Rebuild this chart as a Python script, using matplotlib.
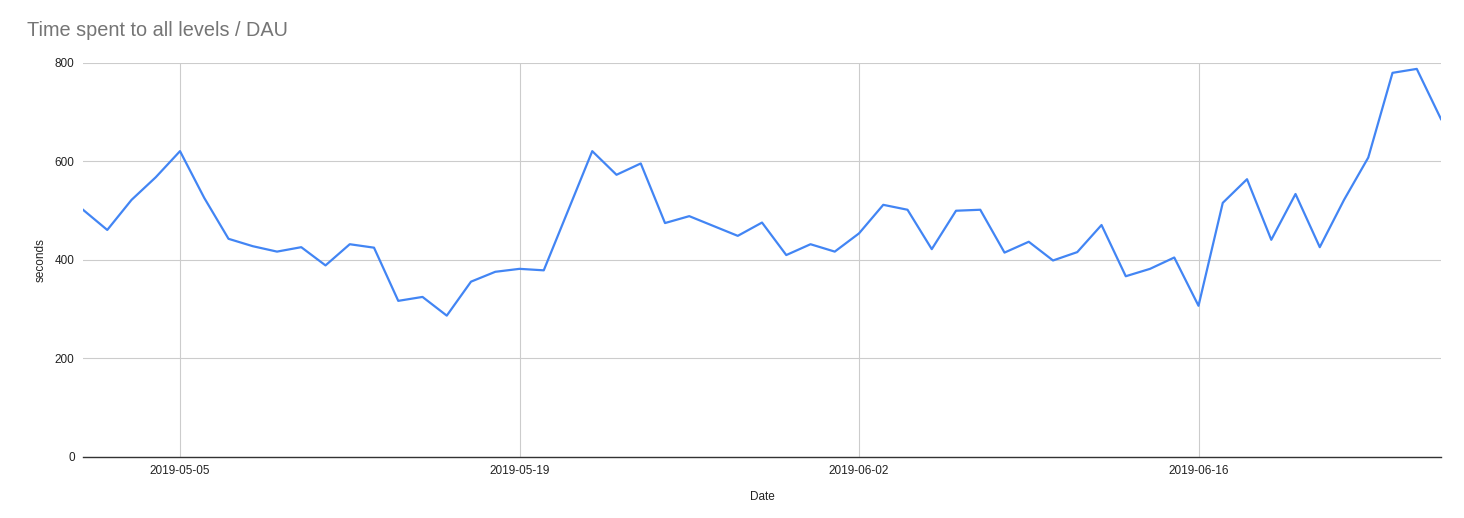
import pandas as pd
import matplotlib.pyplot as plt
import matplotlib.dates as mdates

plt.rcParams['font.family'] = ['Liberation Sans', 'DejaVu Sans']

# daily values, 2019-05-01 .. 2019-06-26
dates = pd.date_range('2019-05-01', '2019-06-26', freq='D')
seconds = [502, 461, 522, 568, 621, 526, 443, 428, 417, 426,
           389, 432, 425, 317, 325, 287, 356, 376, 382, 379,
           500, 621, 573, 596, 475, 489, 469, 449, 476, 410,
           432,
           417, 454, 512, 502, 422, 500, 502, 415, 437, 399,
           416, 471, 367, 382, 405, 307, 516, 564, 441, 534,
           426, 522, 608, 780, 788, 686]
tick_dates = pd.to_datetime(['2019-05-05', '2019-05-19', '2019-06-02', '2019-06-16'])
y_ticks = [0, 200, 400, 600, 800]

fig = plt.figure(figsize=(14.64, 5.18), dpi=100)
ax = fig.add_axes([0.0567, 0.1178, 0.9276, 0.7606])

ax.plot(dates, seconds, color='#4285f4', linewidth=1.6, zorder=3)

ax.set_xlim(dates[0], dates[-1])
ax.set_ylim(0, 800)
ax.set_xticks(tick_dates)
ax.xaxis.set_major_formatter(mdates.DateFormatter('%Y-%m-%d'))
ax.set_yticks(y_ticks)

ax.grid(True, color='#cccccc', linewidth=0.8)
ax.set_axisbelow(True)
for s in ['top', 'right', 'left']:
    ax.spines[s].set_visible(False)
ax.spines['bottom'].set_color('#333333')
ax.spines['bottom'].set_linewidth(1.0)
ax.spines['bottom'].set_zorder(4)
ax.tick_params(length=0, labelsize=8.5, colors='#222222', pad=6)

ax.set_xlabel('Date', fontsize=8.5, color='#222222', labelpad=10)
ax.set_ylabel('seconds', fontsize=8.5, color='#222222', labelpad=6)

fig.text(27 / 1464, 1 - 30 / 518, 'Time spent to all levels / DAU',
         fontsize=14.3, color='#757575', va='center', ha='left')

fig.savefig('out.png', dpi=100)
